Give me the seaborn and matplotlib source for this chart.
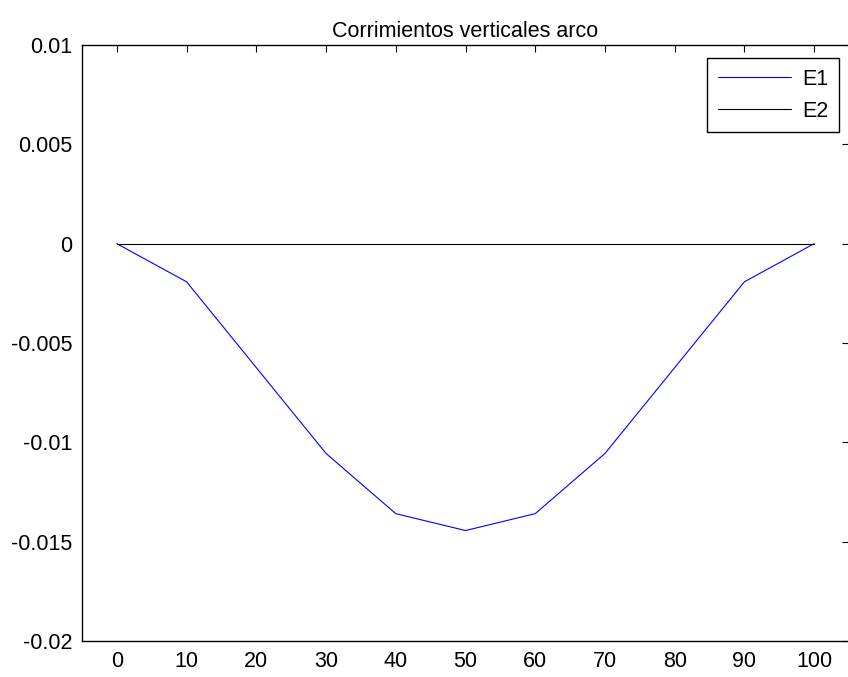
import matplotlib
matplotlib.use("Agg")
import matplotlib.pyplot as plt
import seaborn as sns
import pandas as pd

# Nodal positions along the arch and vertical displacements
x_pos = [0, 10, 30, 40, 50, 60, 70, 90, 100]
e1_disp = [0.0, -0.00192, -0.01056, -0.01359, -0.01444, -0.01359, -0.01056, -0.00192, 0.0]
e2_disp = [0.0, 0.0, 0.0, 0.0, 0.0, 0.0, 0.0, 0.0, 0.0]

x_ticks = [0, 10, 20, 30, 40, 50, 60, 70, 80, 90, 100]
y_ticks = [-0.02, -0.015, -0.01, -0.005, 0, 0.005, 0.01]
y_tick_labels = ["-0.02", "-0.015", "-0.01", "-0.005", "0", "0.005", "0.01"]

df = pd.concat([
    pd.DataFrame({"x": x_pos, "y": e1_disp, "serie": "E1"}),
    pd.DataFrame({"x": x_pos, "y": e2_disp, "serie": "E2"}),
])

sns.set_style("white")
plt.rcParams["font.family"] = ["Liberation Sans", "DejaVu Sans"]
FS = 15.5

fig = plt.figure(figsize=(8.48, 6.77), dpi=100)
ax = fig.add_axes([82 / 848, 36 / 677, (849 - 82) / 848, (641 - 45) / 677])

sns.lineplot(data=df, x="x", y="y", hue="serie", hue_order=["E1", "E2"],
             palette={"E1": "#0000ff", "E2": "#000000"}, linewidth=0.8,
             sort=False, ax=ax)

ax.set_xlim(-5, 105)
ax.set_ylim(-0.02, 0.01)
ax.set_xticks(x_ticks)
ax.set_xticklabels([str(t) for t in x_ticks])
ax.set_yticks(y_ticks)
ax.set_yticklabels(y_tick_labels)
ax.tick_params(direction="in", top=True, right=True, length=5, width=0.8,
               labelsize=FS, colors="black", pad=7)
for s in ax.spines.values():
    s.set_color("black")
    s.set_linewidth(1.0)
ax.set_xlabel("")
ax.set_ylabel("")
ax.set_title("Corrimientos verticales arco", fontsize=FS, pad=6, color="black")

leg = ax.legend(loc="upper right", bbox_to_anchor=(839 / 848, 1 - 58 / 677),
                bbox_transform=fig.transFigure, borderaxespad=0,
                fontsize=FS, handlelength=3.4, handletextpad=0.5,
                labelspacing=0.5, borderpad=0.5, fancybox=False,
                framealpha=1, edgecolor="black")
leg.get_frame().set_linewidth(1.0)
for h in leg.get_lines():
    h.set_linewidth(0.8)
for t in leg.get_texts():
    t.set_color("black")

fig.savefig("out.png", dpi=100, facecolor="white")
